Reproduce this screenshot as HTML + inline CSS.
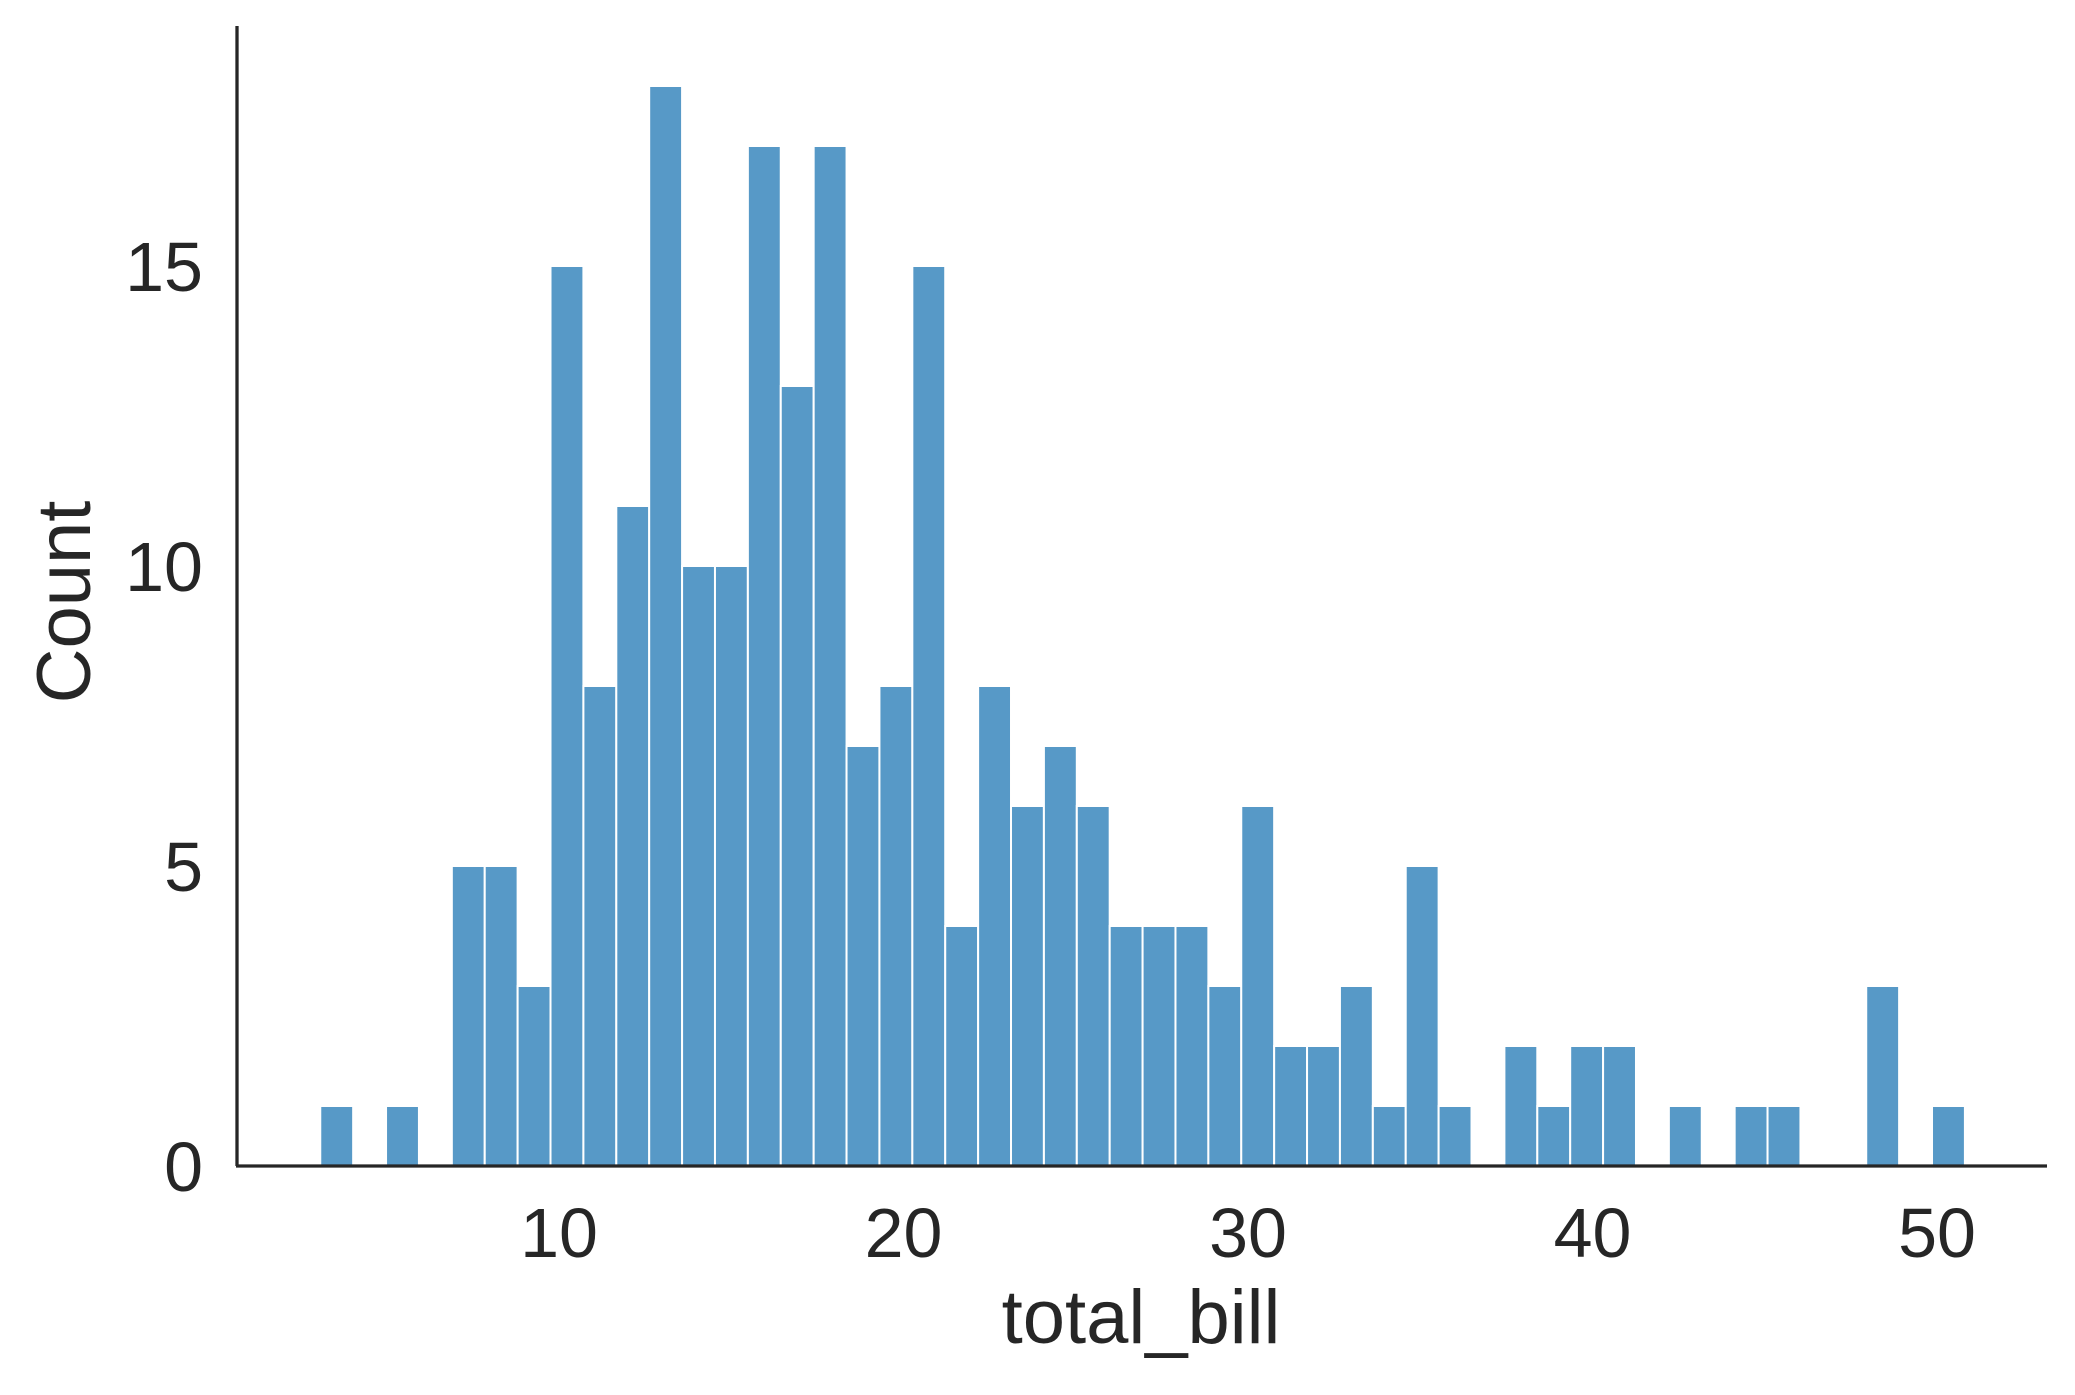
<!DOCTYPE html>
<html><head><meta charset="utf-8"><style>html,body{margin:0;padding:0;background:#fff}</style></head>
<body>
<svg id="chart" width="2075" height="1390" xmlns="http://www.w3.org/2000/svg" font-family="Liberation Sans, sans-serif" fill="#262626">
<g id="bars"></g>
<g id="axes"></g>
</svg>
<script>
const binStart = 3.07;
const binWidth = 0.9548;
const counts = [1,0,1,0,5,5,3,15,8,11, 18,10,10,17,13,17,7,8,15,4, 8,6,7,6,4,4,4,3,6,2, 2,3,1,5,1,0,2,1,2,2, 0,1,0,1,1,0,0,3,0,1];
const xTicks = [10,20,30,40,50];
const yTicks = [0,5,10,15];
const ns = "http://www.w3.org/2000/svg";
const X = v => 559 + (v - 10) * 34.45;
const Y = v => 1166 - v * 60;
const bars = document.getElementById('bars');
const axes = document.getElementById('axes');
function mk(tag, attrs, parent){const e=document.createElementNS(ns,tag);for(const k in attrs)e.setAttribute(k,attrs[k]);parent.appendChild(e);return e;}
counts.forEach((c,i)=>{
  if(c<=0) return;
  const x0=X(binStart+i*binWidth), x1=X(binStart+(i+1)*binWidth);
  const r=mk('rect',{x:x0,y:Y(c),width:x1-x0,height:Y(0)-Y(c),fill:'#5799c7',stroke:'#fff','stroke-width':2},bars);
  
  
});
const ya=mk('line',{x1:237,y1:26,x2:237,y2:1166,stroke:'#262626','stroke-width':3.3},axes);


const xa=mk('line',{x1:236,y1:1166,x2:2047,y2:1166,stroke:'#262626','stroke-width':3.3},axes);


xTicks.forEach(t=>{
  const e=mk('text',{x:X(t),y:1257,'text-anchor':'middle','font-size':70},axes);
  e.textContent=t;
  
  
});
yTicks.forEach(t=>{
  const e=mk('text',{x:203,y:Y(t)+25,'text-anchor':'end','font-size':70},axes);
  e.textContent=t;
  
  
});
const xl=mk('text',{x:1141,y:1343,'text-anchor':'middle','font-size':76},axes);
xl.textContent='total_bill';


const yl=mk('text',{x:0,y:0,'text-anchor':'middle','font-size':76,transform:'translate(90,602) rotate(-90)'},axes);
yl.textContent='Count';


</script>
</body></html>
